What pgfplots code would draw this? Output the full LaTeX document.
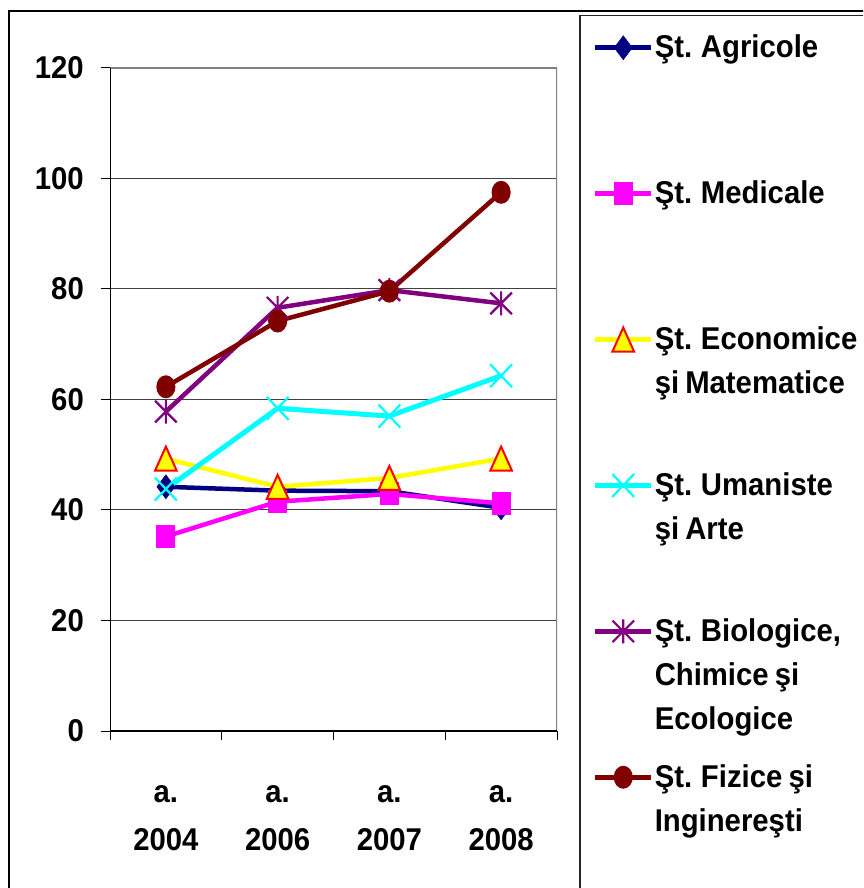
\documentclass[border=0pt]{standalone}
\usepackage{pgfplots}
\pgfplotsset{compat=1.18}
\usepackage{fontspec}
\setmainfont{Liberation Sans}[FakeStretch=0.93, WordSpace=0.75]
\definecolor{cnavy}{HTML}{000080}
\definecolor{cmag}{HTML}{FF00FF}
\definecolor{cyel}{HTML}{FFFF00}
\definecolor{ccyan}{HTML}{00FFFF}
\definecolor{cpurp}{HTML}{800080}
\definecolor{cdred}{HTML}{800000}
\definecolor{cred}{HTML}{FF0000}
\pgfdeclareplotmark{xstar}{%
 \pgfpathmoveto{\pgfqpoint{-0.9\pgfplotmarksize}{-0.9\pgfplotmarksize}}%
 \pgfpathlineto{\pgfqpoint{0.9\pgfplotmarksize}{0.9\pgfplotmarksize}}%
 \pgfpathmoveto{\pgfqpoint{-0.9\pgfplotmarksize}{0.9\pgfplotmarksize}}%
 \pgfpathlineto{\pgfqpoint{0.9\pgfplotmarksize}{-0.9\pgfplotmarksize}}%
 \pgfpathmoveto{\pgfqpoint{0pt}{-\pgfplotmarksize}}%
 \pgfpathlineto{\pgfqpoint{0pt}{\pgfplotmarksize}}%
 \pgfusepathqstroke}
\pgfdeclareplotmark{xx}{%
 \pgfpathmoveto{\pgfqpoint{-0.95\pgfplotmarksize}{-\pgfplotmarksize}}%
 \pgfpathlineto{\pgfqpoint{0.95\pgfplotmarksize}{\pgfplotmarksize}}%
 \pgfpathmoveto{\pgfqpoint{-0.95\pgfplotmarksize}{\pgfplotmarksize}}%
 \pgfpathlineto{\pgfqpoint{0.95\pgfplotmarksize}{-\pgfplotmarksize}}%
 \pgfusepathqstroke}
\pgfdeclareplotmark{tri}{%
 \pgfpathmoveto{\pgfqpoint{0pt}{\pgfplotmarksize}}%
 \pgfpathlineto{\pgfqpoint{0.9\pgfplotmarksize}{-\pgfplotmarksize}}%
 \pgfpathlineto{\pgfqpoint{-0.9\pgfplotmarksize}{-\pgfplotmarksize}}%
 \pgfpathclose\pgfusepathqfillstroke}
\pgfdeclareplotmark{rect}{%
 \pgfpathrectanglecorners{\pgfqpoint{-0.83\pgfplotmarksize}{-\pgfplotmarksize}}{\pgfqpoint{0.83\pgfplotmarksize}{\pgfplotmarksize}}%
 \pgfusepathqfill}
\pgfdeclareplotmark{ell}{%
 \pgfpathellipse{\pgfpointorigin}{\pgfqpoint{0.83\pgfplotmarksize}{0pt}}{\pgfqpoint{0pt}{\pgfplotmarksize}}%
 \pgfusepathqfill}
\newcommand{\tfont}{\fontsize{31.5}{48}\selectfont\bfseries}
\newcommand{\lfont}{\fontsize{31.5}{44}\selectfont\bfseries}
\newcommand{\lentry}[1]{\parbox[t][145.9pt][t]{230pt}{\rule{0pt}{30pt}#1}}
\begin{document}
\begin{tikzpicture}[x=1pt,y=1pt]
\useasboundingbox (0,0) rectangle (863,888);
\clip (0,0) rectangle (863,888);
\draw[black, line width=2pt] (9,877) rectangle (900,-20);
\begin{axis}[
  at={(110pt,157pt)}, anchor=south west,
  scale only axis, width=447pt, height=663pt,
  xmin=-0.5, xmax=3.5, ymin=0, ymax=120,
  xtick={-0.5,0.5,1.5,2.5,3.5}, xticklabels={},
  extra x ticks={0,1,2,3},
  extra x tick labels={{a.\\2004},{a.\\2006},{a.\\2007},{a.\\2008}},
  extra x tick style={major tick length=0pt, grid=none},
  ytick={0,20,...,120},
  ymajorgrids, major grid style={black!75, line width=1pt},
  tick align=outside, tick pos=left, major tick length=9pt,
  tick style={black, line width=1pt},
  axis line style={draw=none},
  xticklabel style={align=center, font=\tfont, anchor=north, inner sep=0pt, yshift=-54pt},
  yticklabel style={font=\tfont, anchor=east, inner sep=0pt, xshift=-17pt},
  /pgf/number format/assume math mode=true,
  legend cell align=left,
  legend style={at={(1.04922,1.07994)}, anchor=north west, draw=black!85, line width=1.5pt,
    fill=white, inner xsep=13pt, inner ysep=12pt, row sep=0pt, font=\lfont,
    cells={anchor=base west}, nodes={inner sep=0pt, text depth=}},
  legend image code/.code={%
    \draw[mark repeat=2,mark phase=2] plot coordinates {(0pt,10pt)(28pt,10pt)(56pt,10pt)};
    \path (57pt,10pt);},
]
\addplot[cnavy, line width=4.5pt, mark=diamond*, mark size=12pt, mark options={solid, line width=0.5pt, fill=cnavy}]
  coordinates {(0,44.2) (1,43.5) (2,43.4) (3,40.4)};
\addlegendentry{\lentry{Şt. Agricole}}
\addplot[cmag, line width=4.5pt, mark=rect, mark size=11.5pt, mark options={solid, fill=cmag}]
  coordinates {(0,35.2) (1,41.5) (2,42.9) (3,41.2)};
\addlegendentry{\lentry{Şt. Medicale}}
\addplot[cyel, line width=4.5pt, mark=tri, mark size=12pt, mark options={solid, draw=cred, fill=cyel, line width=2pt}]
  coordinates {(0,49.3) (1,44.2) (2,45.8) (3,49.3)};
\addlegendentry{\lentry{Şt. Economice\\şi Matematice}}
\addplot[ccyan, line width=5pt, mark=xx, mark size=11.5pt, mark options={solid, line width=2.2pt}]
  coordinates {(0,43.8) (1,58.4) (2,57.0) (3,64.3)};
\addlegendentry{\lentry{Şt. Umaniste\\şi Arte}}
\addplot[cpurp, line width=4.5pt, mark=xstar, mark size=12pt, mark options={solid, line width=2.2pt}]
  coordinates {(0,57.8) (1,76.6) (2,79.8) (3,77.4)};
\addlegendentry{\lentry{Şt. Biologice,\\Chimice şi\\Ecologice}}
\addplot[cdred, line width=4.5pt, mark=ell, mark size=11.5pt, mark options={solid, fill=cdred}]
  coordinates {(0,62.3) (1,74.2) (2,79.6) (3,97.5)};
\addlegendentry{\lentry{Şt. Fizice şi\\Inginereşti}}
\draw[black!50, line width=1.5pt] (rel axis cs:0,1) -- (rel axis cs:1,1) -- (rel axis cs:1,0);
\draw[black, line width=1.5pt] (rel axis cs:0,1) -- (rel axis cs:0,0) -- (rel axis cs:1,0);
\end{axis}
\end{tikzpicture}
\end{document}
